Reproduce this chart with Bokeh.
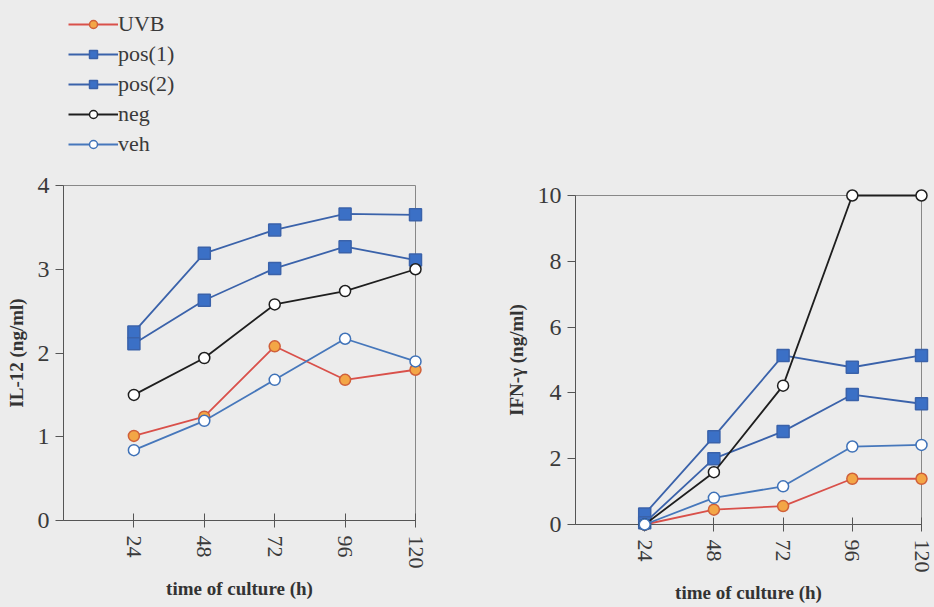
from bokeh.plotting import figure
from bokeh.layouts import row, column
from bokeh.models import Range1d, FixedTicker, Legend, LegendItem
from bokeh.embed import file_html
from bokeh.resources import INLINE

# ---- data ----
hours = [24, 48, 72, 96, 120]
hour_labels = ["24", "48", "72", "96", "120"]

il12_uvb = [1.01, 1.24, 2.08, 1.68, 1.80]
il12_pos1 = [2.25, 3.19, 3.47, 3.66, 3.65]
il12_pos2 = [2.11, 2.63, 3.01, 3.27, 3.11]
il12_neg = [1.50, 1.94, 2.58, 2.74, 3.00]
il12_veh = [0.84, 1.19, 1.68, 2.17, 1.90]
il12_ticks = [0, 1, 2, 3, 4]

ifn_uvb = [0.0, 0.45, 0.56, 1.39, 1.39]
ifn_pos1 = [0.32, 2.67, 5.14, 4.78, 5.14]
ifn_pos2 = [0.05, 2.00, 2.83, 3.95, 3.67]
ifn_neg = [0.0, 1.59, 4.22, 10.0, 10.0]
ifn_veh = [0.0, 0.81, 1.16, 2.37, 2.42]
ifn_ticks = [0, 2, 4, 6, 8, 10]

series_names = ["UVB", "pos(1)", "pos(2)", "neg", "veh"]

BG = "#ececec"
SERIF = "Liberation Serif"

styles = {
    "UVB": dict(line="#d9504a", marker="circle", fill="#f3a646", edge="#d0603a", size=11),
    "pos(1)": dict(line="#3a62aa", marker="square", fill="#3b70c6", edge="#3a62aa", size=12),
    "pos(2)": dict(line="#3a62aa", marker="square", fill="#3b70c6", edge="#3a62aa", size=12),
    "neg": dict(line="#1e1e1e", marker="circle", fill="white", edge="#1e1e1e", size=11),
    "veh": dict(line="#4677bb", marker="circle", fill="white", edge="#3f72b8", size=11),
}


def make_fig(width, height, border_left, border_right, border_top, border_bottom,
             ymax, yticks, ylabel):
    p = figure(width=width, height=height, output_backend="svg", toolbar_location=None,
               x_range=Range1d(0, 120), y_range=Range1d(0, ymax),
               min_border_left=border_left, min_border_right=border_right,
               min_border_top=border_top, min_border_bottom=border_bottom)
    p.background_fill_color = BG
    p.border_fill_color = BG
    p.outline_line_color = "#888888"
    p.outline_line_width = 1
    p.grid.visible = False

    p.xaxis.ticker = FixedTicker(ticks=hours)
    p.xaxis.major_label_overrides = {h: l for h, l in zip(hours, hour_labels)}
    p.xaxis.major_label_orientation = "vertical"
    p.xaxis.major_tick_in = 7
    p.xaxis.major_tick_out = 7
    p.xaxis.minor_tick_line_color = None
    p.xaxis.axis_label = "time of culture (h)"
    p.xaxis.major_label_standoff = 8
    p.xaxis.axis_label_standoff = 6

    p.yaxis.ticker = FixedTicker(ticks=yticks)
    p.yaxis.major_tick_in = 0
    p.yaxis.major_tick_out = 8
    p.yaxis.minor_tick_line_color = None
    p.yaxis.axis_label = ylabel
    p.yaxis.major_label_standoff = 6
    p.yaxis.axis_label_standoff = 8

    for ax in (p.xaxis, p.yaxis):
        ax.axis_line_color = "#555555"
        ax.major_tick_line_color = "#555555"
        ax.major_label_text_font = SERIF
        ax.major_label_text_color = "#3a3a3a"
        ax.axis_label_text_font = SERIF
        ax.axis_label_text_font_style = "bold"
        ax.axis_label_text_color = "#333333"
        ax.axis_label_text_font_size = "19px"
    p.xaxis.major_label_text_font_size = "22px"
    p.yaxis.major_label_text_font_size = "24px"
    return p


def draw(p, data):
    items = []
    for name, ys in zip(series_names, data):
        st = styles[name]
        ln = p.line(hours, ys, line_color=st["line"], line_width=1.8, level="overlay")
        sc = p.scatter(hours, ys, marker=st["marker"], size=st["size"],
                       fill_color=st["fill"], line_color=st["edge"], line_width=1.5,
                       level="overlay")
        items.append(LegendItem(label=name, renderers=[ln, sc]))
    return items


il12_data = [il12_uvb, il12_pos1, il12_pos2, il12_neg, il12_veh]
ifn_data = [ifn_uvb, ifn_pos1, ifn_pos2, ifn_neg, ifn_veh]

# legend strip above the left chart (its renderers lie outside its view range)
p0 = figure(width=480, height=167, output_backend="svg", toolbar_location=None,
            x_range=Range1d(0, 120), y_range=Range1d(100, 101),
            min_border_left=63, min_border_right=65, min_border_top=6, min_border_bottom=0)
p0.axis.visible = False
p0.grid.visible = False
p0.outline_line_color = None
p0.background_fill_color = BG
p0.border_fill_color = BG
legend_items = draw(p0, il12_data)
legend = Legend(items=legend_items, location="top_left", background_fill_alpha=0,
                border_line_color=None, padding=0, margin=5,
                label_text_font=SERIF, label_text_font_size="22px",
                label_text_color="#3a3a3a",
                glyph_width=50, glyph_height=20, label_height=20, spacing=4,
                label_standoff=0)
p0.add_layout(legend, "center")

p1 = make_fig(480, 440, 63, 65, 18, 87, 4, il12_ticks, "IL-12 (ng/ml)")
draw(p1, il12_data)

p2 = make_fig(454, 607, 95, 13, 195, 83, 10, ifn_ticks, "IFN-\u03b3 (ng/ml)")
draw(p2, ifn_data)

layout = row(column(p0, p1, spacing=0), column(p2), spacing=0)
layout.styles = {"background-color": BG}

open("out.html", "w").write(file_html(layout, INLINE))
